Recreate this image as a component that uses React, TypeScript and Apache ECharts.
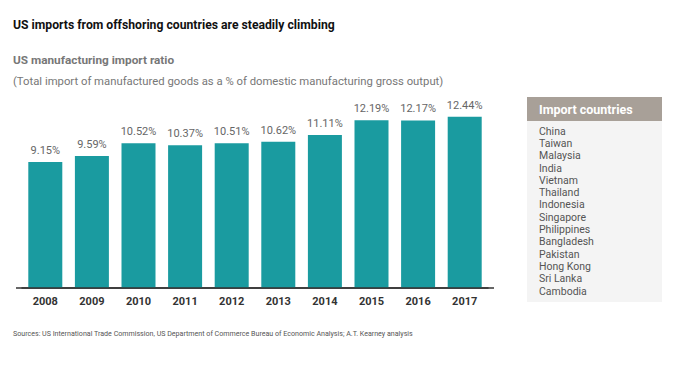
import React, { useEffect, useRef } from "react";
import * as echarts from "echarts";

const years = ["2008", "2009", "2010", "2011", "2012", "2013", "2014", "2015", "2016", "2017"];
const ratios = [9.15, 9.59, 10.52, 10.37, 10.51, 10.62, 11.11, 12.19, 12.17, 12.44];
const countries = [
  "China", "Taiwan", "Malaysia", "India", "Vietnam", "Thailand", "Indonesia",
  "Singapore", "Philippines", "Bangladesh", "Pakistan", "Hong Kong", "Sri Lanka", "Cambodia",
];
const title = "US imports from offshoring countries are steadily climbing";
const subtitle = "US manufacturing import ratio";
const subtitle2 = "(Total import of manufactured goods as a % of domestic manufacturing gross output)";
const boxTitle = "Import countries";
const sources = "Sources: US International Trade Commission, US Department of Commerce Bureau of Economic Analysis; A.T. Kearney analysis";

const FONT = "Roboto";

export default function App() {
  const ref = useRef<HTMLDivElement>(null);
  useEffect(() => {
    if (!ref.current) return;
    const chart = echarts.init(ref.current, undefined, { renderer: "svg" });
    chart.setOption({
      animation: false,
      backgroundColor: "#ffffff",
      grid: { left: 22, width: 466, top: 109, bottom: 381 - 288, containLabel: false },
      xAxis: {
        type: "category",
        data: years,
        axisLine: { lineStyle: { color: "#333", width: 1.5 } },
        axisTick: { show: false },
        axisLabel: { color: "#333", fontWeight: "bold", fontSize: 11, fontFamily: FONT, margin: 8 },
      },
      yAxis: { type: "value", min: 0, max: 13, show: false, splitLine: { show: false } },
      series: [
        {
          type: "bar",
          data: ratios,
          barWidth: 34,
          itemStyle: { color: "#1a9ba0" },
          label: {
            show: true,
            position: "top",
            distance: 6,
            color: "#666",
            fontSize: 11,
            fontFamily: FONT,
            formatter: (p: any) => p.value.toFixed(2) + "%",
          },
        },
      ],
      graphic: [
        { type: "line", shape: { x1: 16, y1: 288, x2: 494, y2: 288 }, style: { stroke: "#333", lineWidth: 1.5 }, z: 10 },
        { type: "text", x: 13, y: 25, style: { text: title, fontSize: 12.2, fontWeight: "bold", fill: "#111", fontFamily: FONT, verticalAlign: "middle" } },
        { type: "text", x: 13, y: 60, style: { text: subtitle, fontSize: 11.8, fontWeight: "bold", fill: "#777", fontFamily: FONT, verticalAlign: "middle" } },
        { type: "text", x: 13, y: 81, style: { text: subtitle2, fontSize: 11.3, fill: "#777", fontFamily: FONT, verticalAlign: "middle" } },
        { type: "rect", shape: { x: 527, y: 121, width: 135, height: 181 }, style: { fill: "#f4f4f4" } },
        { type: "rect", shape: { x: 527, y: 97, width: 135, height: 24 }, style: { fill: "#a8a098" } },
        { type: "text", x: 539, y: 109, style: { text: boxTitle, fontSize: 12.5, fontWeight: "bold", fill: "#fff", fontFamily: FONT, verticalAlign: "middle" } },
        {
          type: "text", x: 539, y: 125,
          style: { text: countries.join("\n"), fontSize: 10.5, lineHeight: 12.3, fill: "#555", fontFamily: FONT },
        },
        { type: "text", x: 13, y: 333, style: { text: sources, fontSize: 7.1, fill: "#555", fontFamily: FONT, verticalAlign: "middle" } },
      ],
    });
    return () => chart.dispose();
  }, []);
  return <div ref={ref} style={{ width: 678, height: 381, position: "absolute", left: 0, top: 0 }} />;
}
